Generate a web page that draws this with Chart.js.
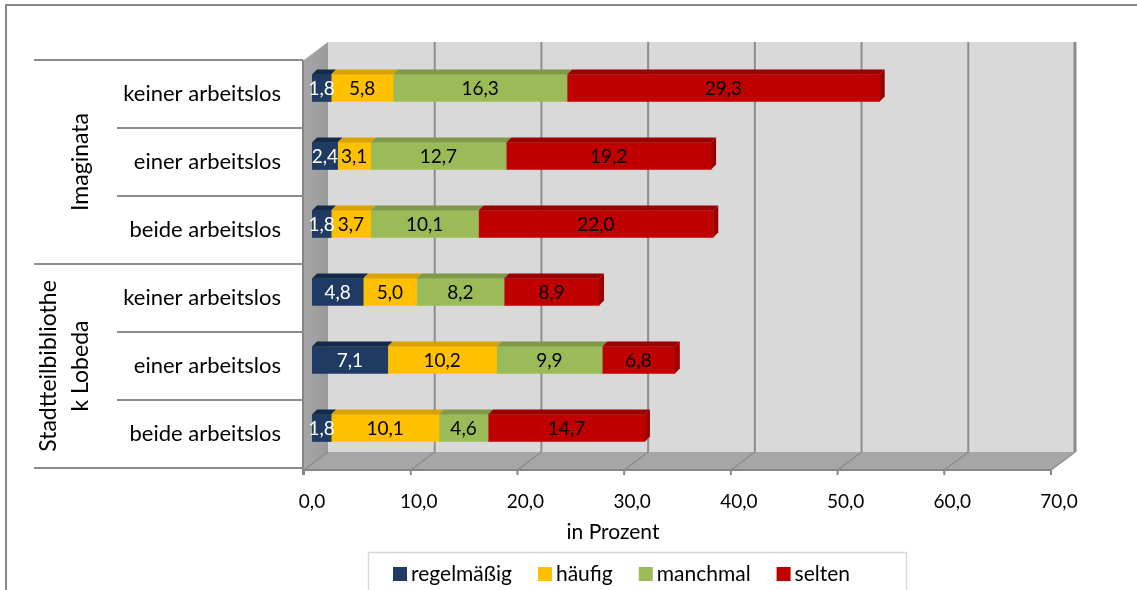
<!DOCTYPE html>
<html>
<head>
<meta charset="utf-8">
<script src="https://cdn.jsdelivr.net/npm/chart.js@4.4.1/dist/chart.umd.min.js"></script>
<style>
  html, body { margin: 0; padding: 0; background: #fff; }
  #wrap { width: 1137px; height: 590px; }
</style>
</head>
<body>
<div id="wrap"><canvas id="chart" width="1137" height="590"></canvas></div>
<script>
// ---- data ----
const categories = ['keiner arbeitslos', 'einer arbeitslos', 'beide arbeitslos',
                    'keiner arbeitslos', 'einer arbeitslos', 'beide arbeitslos'];
const groupLabels = [['Imaginata'], ['Stadtteilbibliothe', 'k Lobeda']];
const groupSizes = [3, 3];
const seriesNames = ['regelmäßig', 'häufig', 'manchmal', 'selten'];
const regelmaessig = [1.8, 2.4, 1.8, 4.8, 7.1, 1.8];
const haeufig      = [5.8, 3.1, 3.7, 5.0, 10.2, 10.1];
const manchmal     = [16.3, 12.7, 10.1, 8.2, 9.9, 4.6];
const selten       = [29.3, 19.2, 22.0, 8.9, 6.8, 14.7];
const xTickLabels = ['0,0', '10,0', '20,0', '30,0', '40,0', '50,0', '60,0', '70,0'];
const xTitle = 'in Prozent';

// ---- styling ----
const FONT = 'Lato, "Open Sans", sans-serif';
const FRONT = ['#1f3a63', '#ffc000', '#9bbb59', '#c00000'];
const TOPS  = ['#142a4a', '#d9a200', '#7f9a47', '#9a0000'];
const LABEL_COLORS = ['#ffffff', '#000000', '#000000', '#000000'];
const DX = 24, DY = -18;      // depth of the 3d box
const BAR_SHIFT = -6;         // bars sit halfway back in the box
const fmt = v => v.toFixed(1).replace('.', ',');

const wallPlugin = {
  id: 'wall',
  beforeDraw(chart) {
    const { ctx, chartArea: ca, scales: { x } } = chart;
    const fx = v => x.getPixelForValue(v) - 8;
    const bx = v => fx(v) + DX;
    const fTop = ca.top, fBot = ca.bottom + 2;
    const bTop = fTop + DY, bBot = fBot + DY;
    const vMax = x.max;
    ctx.save();

    // outer frame (only top and left are visible)
    ctx.strokeStyle = '#878787';
    ctx.lineWidth = 2;
    ctx.beginPath();
    ctx.moveTo(6, 590); ctx.lineTo(6, 5); ctx.lineTo(1137, 5);
    ctx.stroke();

    // back wall
    ctx.fillStyle = '#d9d9d9';
    ctx.fillRect(bx(0), bTop, bx(vMax) - bx(0), bBot - bTop);
    ctx.strokeStyle = '#8c8c8c';
    ctx.lineWidth = 2;
    x.ticks.forEach(t => {
      if (t.value === 0) return;
      ctx.beginPath();
      ctx.moveTo(bx(t.value), bTop);
      ctx.lineTo(bx(t.value), bBot);
      ctx.stroke();
    });
    ctx.lineWidth = 3;
    ctx.beginPath();
    ctx.moveTo(bx(vMax), bTop); ctx.lineTo(bx(vMax), bBot);
    ctx.stroke();

    // left side wall
    const g = ctx.createLinearGradient(fx(0), 0, bx(0), 0);
    g.addColorStop(0, '#a6a6a6');
    g.addColorStop(1, '#9a9a9a');
    ctx.fillStyle = g;
    ctx.beginPath();
    ctx.moveTo(fx(0), fTop); ctx.lineTo(bx(0), bTop);
    ctx.lineTo(bx(0), bBot); ctx.lineTo(fx(0), fBot);
    ctx.closePath(); ctx.fill();

    // floor
    ctx.fillStyle = '#a6a6a6';
    ctx.beginPath();
    ctx.moveTo(fx(0), fBot); ctx.lineTo(bx(0), bBot);
    ctx.lineTo(bx(vMax), bBot); ctx.lineTo(fx(vMax), fBot);
    ctx.closePath(); ctx.fill();
    ctx.strokeStyle = '#8c8c8c';
    ctx.lineWidth = 1.5;
    x.ticks.forEach(t => {
      ctx.beginPath();
      ctx.moveTo(bx(t.value), bBot);
      ctx.lineTo(fx(t.value), fBot);
      ctx.stroke();
    });

    // front axis line + ticks
    ctx.strokeStyle = '#868686';
    ctx.lineWidth = 2;
    ctx.beginPath();
    ctx.moveTo(fx(0), fBot); ctx.lineTo(fx(vMax), fBot);
    ctx.moveTo(fx(0) - 1, fTop); ctx.lineTo(fx(0) - 1, fBot + 5);
    x.ticks.forEach(t => {
      ctx.moveTo(fx(t.value), fBot); ctx.lineTo(fx(t.value), fBot + 5);
    });
    ctx.stroke();

    // category separators and group labels
    const rowH = (ca.bottom - ca.top) / categories.length;
    ctx.strokeStyle = '#8c8c8c';
    ctx.lineWidth = 2;
    let row = 0;
    const bounds = [0];
    groupSizes.forEach(n => { row += n; bounds.push(row); });
    for (let k = 0; k <= categories.length; k++) {
      const yy = ca.top + k * rowH;
      ctx.beginPath();
      ctx.moveTo(bounds.includes(k) ? 34 : 117, yy);
      ctx.lineTo(fx(0) - 1, yy);
      ctx.stroke();
    }
    ctx.fillStyle = '#000';
    ctx.font = '23px ' + FONT;
    ctx.textAlign = 'center';
    ctx.textBaseline = 'middle';
    groupLabels.forEach((lines, gi) => {
      const yc = ca.top + (bounds[gi] + bounds[gi + 1]) / 2 * rowH;
      lines.forEach((line, li) => {
        const xc = 81 - (lines.length - 1 - li) * 32;
        ctx.save();
        ctx.translate(xc, yc);
        ctx.rotate(-Math.PI / 2);
        ctx.fillText(line, 0, 0);
        ctx.restore();
      });
    });
    ctx.restore();
  }
};

const barPlugin = {
  id: 'bar3d',
  beforeDatasetsDraw(chart) {
    chart.ctx.save();
    chart.ctx.translate(0, BAR_SHIFT);
  },
  afterDatasetsDraw(chart) {
    const ctx = chart.ctx;
    const n = chart.data.datasets.length;
    const d3 = 5;
    for (let d = 0; d < n; d++) {
      chart.getDatasetMeta(d).data.forEach(el => {
        const p = el.getProps(['x', 'y', 'base', 'height'], true);
        const x0 = Math.min(p.x, p.base), x1 = Math.max(p.x, p.base);
        const top = p.y - p.height / 2, bot = p.y + p.height / 2;
        ctx.fillStyle = TOPS[d];
        ctx.beginPath();
        ctx.moveTo(x0, top); ctx.lineTo(x1, top);
        ctx.lineTo(x1 + d3, top - d3); ctx.lineTo(x0 + d3, top - d3);
        ctx.closePath(); ctx.fill();
        if (d === n - 1) {
          ctx.beginPath();
          ctx.moveTo(x1, top); ctx.lineTo(x1 + d3, top - d3);
          ctx.lineTo(x1 + d3, bot - d3); ctx.lineTo(x1, bot);
          ctx.closePath(); ctx.fill();
        }
      });
    }
    ctx.font = '19px ' + FONT;
    ctx.textAlign = 'center';
    ctx.textBaseline = 'middle';
    for (let d = 0; d < n; d++) {
      const vals = chart.data.datasets[d].data;
      chart.getDatasetMeta(d).data.forEach((el, i) => {
        const p = el.getProps(['x', 'y', 'base'], true);
        ctx.fillStyle = LABEL_COLORS[d];
        ctx.fillText(fmt(vals[i]), (p.x + p.base) / 2, p.y + 1);
      });
    }
    ctx.restore();
  }
};

const legendPlugin = {
  id: 'boxLegend',
  afterDraw(chart) {
    const ctx = chart.ctx;
    ctx.save();
    ctx.strokeStyle = '#d9d9d9';
    ctx.lineWidth = 1.5;
    ctx.strokeRect(368.5, 552.5, 538, 50);
    ctx.font = '21px ' + FONT;
    ctx.textBaseline = 'middle';
    ctx.textAlign = 'left';
    let xx = 393;
    chart.data.datasets.forEach((ds, i) => {
      ctx.fillStyle = ds.backgroundColor;
      ctx.fillRect(xx, 567, 14, 14);
      ctx.fillStyle = '#000';
      ctx.fillText(ds.label, xx + 18, 574);
      xx += 18 + ctx.measureText(ds.label).width + 26;
    });
    // axis title
    ctx.textAlign = 'center';
    ctx.fillText(xTitle, 613, 532);
    ctx.restore();
  }
};

const seriesData = [regelmaessig, haeufig, manchmal, selten];

new Chart(document.getElementById('chart'), {
  type: 'bar',
  data: {
    labels: categories,
    datasets: seriesNames.map((name, i) => ({
      label: name,
      data: seriesData[i],
      backgroundColor: FRONT[i],
      borderWidth: 0,
      barThickness: 27
    }))
  },
  options: {
    indexAxis: 'y',
    responsive: false,
    animation: false,
    layout: { padding: { top: 60, right: 78, left: 0, bottom: 0 } },
    plugins: { legend: { display: false }, tooltip: { enabled: false } },
    scales: {
      x: {
        stacked: true,
        min: 0, max: 70,
        ticks: {
          stepSize: 10,
          padding: 22,
          color: '#000',
          font: { family: FONT, size: 19 },
          callback: (v, i) => xTickLabels[i]
        },
        grid: { display: false, drawTicks: false },
        border: { display: false },
        afterFit: s => { s.height = 122; }
      },
      y: {
        stacked: true,
        ticks: {
          padding: 31,
          color: '#000',
          font: { family: FONT, size: 22 }
        },
        grid: { display: false, drawTicks: false },
        border: { display: false },
        afterFit: s => { s.width = 312; }
      }
    }
  },
  plugins: [wallPlugin, barPlugin, legendPlugin]
});
</script>
</body>
</html>
